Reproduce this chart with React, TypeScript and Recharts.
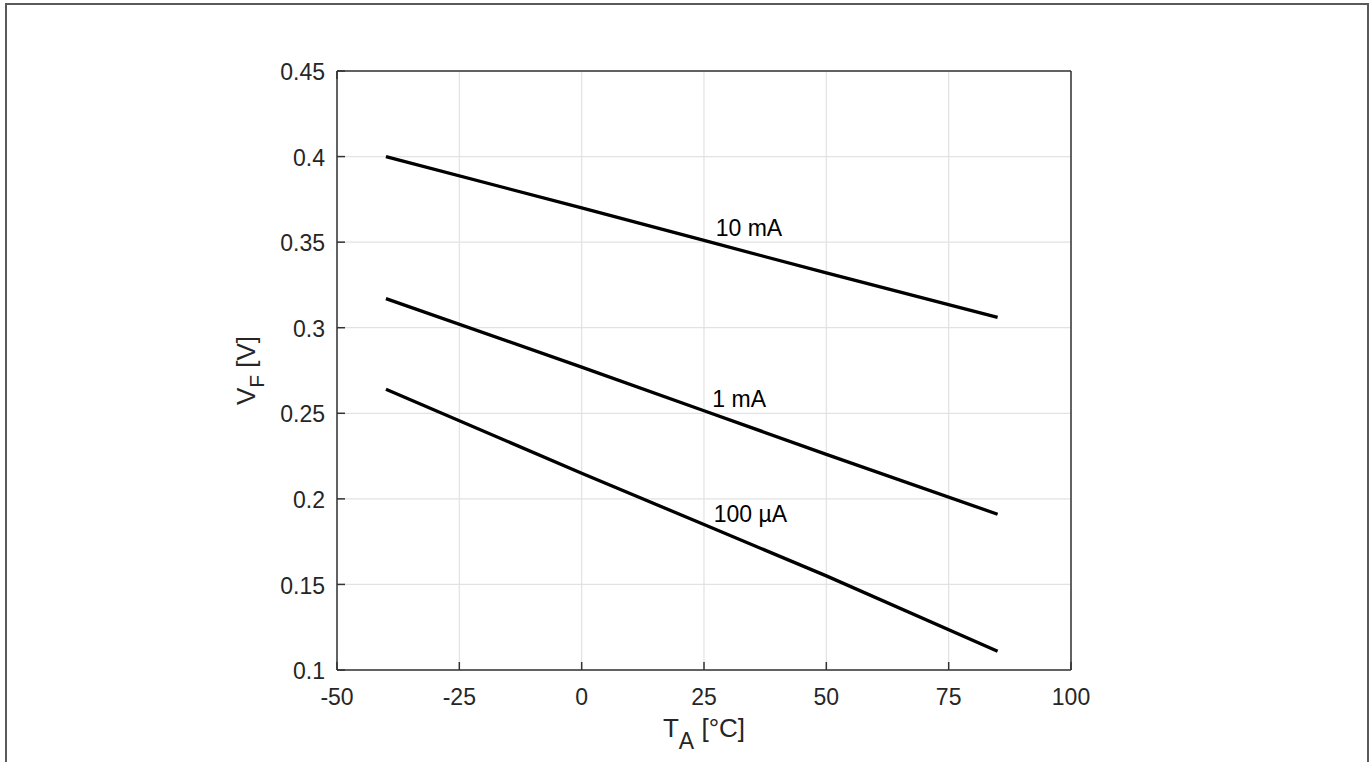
import React from "react"
import {
  LineChart,
  Line,
  XAxis,
  YAxis,
  CartesianGrid,
  ReferenceDot,
  Label
} from "recharts"

// forward voltage vs ambient temperature, one curve per forward current
const temperatures = [-40, 0, 25, 50, 85]
const vf10mA = [0.4, 0.37, 0.351, 0.332, 0.306]
const vf1mA = [0.317, 0.277, 0.2515, 0.226, 0.191]
const vf100uA = [0.264, 0.215, 0.185, 0.155, 0.111]

const xTicks = [-50, -25, 0, 25, 50, 75, 100]
const yTicks = [0.1, 0.15, 0.2, 0.25, 0.3, 0.35, 0.4, 0.45]

const curveNames = ["10 mA", "1 mA", "100 µA"]
const curveLabelX = [27.4, 26.7, 27.0]
const curveLabelY = [0.3538, 0.2534, 0.1865]

const data = temperatures.map((t, i) => ({
  t,
  i10m: vf10mA[i],
  i1m: vf1mA[i],
  i100u: vf100uA[i]
}))

const FONT = '"Liberation Sans", Arial, Helvetica, sans-serif'
const TEXT = "#262626"
const AXIS = "#333333"
const GRID = "#e2e2e2"
const TICK_LEN = 8
const X_MARGIN = 18
const Y_MARGIN = 12
// 0 is treated as "unset" by the axis, so use a tiny size instead
const NO_TICK = 0.001

function BottomTick(props: any) {
  const { x, y, payload } = props
  const axisY = y - X_MARGIN - NO_TICK
  return (
    <g>
      <line x1={x} y1={axisY} x2={x} y2={axisY - TICK_LEN} stroke={AXIS} strokeWidth={1.5} />
      <text x={x} y={y} dy="0.74em" textAnchor="middle" fontSize={23} fill={TEXT} fontFamily={FONT}>
        {payload.value}
      </text>
    </g>
  )
}

function LeftTick(props: any) {
  const { x, y, payload } = props
  const axisX = x + Y_MARGIN + NO_TICK
  return (
    <g>
      <line x1={axisX} y1={y} x2={axisX + TICK_LEN} y2={y} stroke={AXIS} strokeWidth={1.5} />
      <text x={x} y={y} dy="0.4em" textAnchor="end" fontSize={23} fill={TEXT} fontFamily={FONT}>
        {payload.value}
      </text>
    </g>
  )
}

// mirrored ticks on the top and right edges of the box
function TopTick(props: any) {
  const { x, y } = props
  return <line x1={x} y1={y} x2={x} y2={y + TICK_LEN} stroke={AXIS} strokeWidth={1.5} />
}

function RightTick(props: any) {
  const { x, y } = props
  return <line x1={x} y1={y} x2={x - TICK_LEN} y2={y} stroke={AXIS} strokeWidth={1.5} />
}

function XTitle(props: any) {
  const vb = props.viewBox
  return (
    <text x={vb.x + vb.width / 2} y={vb.y + 67} textAnchor="middle" fontSize={26} fill={TEXT} fontFamily={FONT}>
      T
      <tspan dy={12} fontSize={23}>A</tspan>
      <tspan dy={-12}> [°C]</tspan>
    </text>
  )
}

function YTitle(props: any) {
  const vb = props.viewBox
  const cx = vb.x + 18
  const cy = vb.y + vb.height / 2
  return (
    <text
      x={cx}
      y={cy}
      transform={`rotate(-90, ${cx}, ${cy})`}
      textAnchor="middle"
      fontSize={26}
      fill={TEXT}
      fontFamily={FONT}
    >
      V
      <tspan dy={9} fontSize={21}>F</tspan>
      <tspan dy={-9}> [V]</tspan>
    </text>
  )
}

function curveLabel(text: string) {
  return (props: any) => {
    const vb = props.viewBox
    return (
      <text x={vb.x} y={vb.y} fontSize={23} fill="#000" fontFamily={FONT}>
        {text}
      </text>
    )
  }
}

export default function App() {
  return (
    <div
      style={{
        position: "absolute",
        left: 0,
        top: 0,
        width: 1370,
        height: 762,
        overflow: "hidden",
        background: "#fff"
      }}
    >
      <div
        style={{
          position: "absolute",
          left: 5,
          top: 3,
          width: 1364,
          height: 820,
          border: "2px solid #5a5a5a",
          boxSizing: "border-box"
        }}
      />
      <div style={{ position: "absolute", left: 0, top: 0 }}>
        <LineChart
          width={1370}
          height={762}
          data={data}
          margin={{ top: 70, right: 298, bottom: 12, left: 237 }}
        >
          <CartesianGrid stroke={GRID} strokeWidth={1.2} />
          <XAxis
            dataKey="t"
            type="number"
            domain={[-50, 100]}
            ticks={xTicks}
            interval={0}
            height={80}
            tickSize={NO_TICK}
            tickMargin={X_MARGIN}
            tickLine={false}
            tick={<BottomTick />}
            axisLine={{ stroke: AXIS, strokeWidth: 1.5 }}
          >
            <Label content={XTitle} />
          </XAxis>
          <XAxis
            xAxisId="top"
            orientation="top"
            type="number"
            domain={[-50, 100]}
            ticks={xTicks}
            interval={0}
            height={1}
            tickSize={NO_TICK}
            tickMargin={0}
            tickLine={false}
            tick={<TopTick />}
            axisLine={{ stroke: AXIS, strokeWidth: 1.5 }}
          />
          <YAxis
            type="number"
            domain={[0.1, 0.45]}
            ticks={yTicks}
            interval={0}
            width={100}
            tickSize={NO_TICK}
            tickMargin={Y_MARGIN}
            tickLine={false}
            tick={<LeftTick />}
            axisLine={{ stroke: AXIS, strokeWidth: 1.5 }}
          >
            <Label content={YTitle} />
          </YAxis>
          <YAxis
            yAxisId="right"
            orientation="right"
            type="number"
            domain={[0.1, 0.45]}
            ticks={yTicks}
            interval={0}
            width={1}
            tickSize={NO_TICK}
            tickMargin={0}
            tickLine={false}
            tick={<RightTick />}
            axisLine={{ stroke: AXIS, strokeWidth: 1.5 }}
          />
          <Line type="linear" dataKey="i10m" stroke="#000" strokeWidth={3.3} dot={false} isAnimationActive={false} />
          <Line type="linear" dataKey="i1m" stroke="#000" strokeWidth={3.3} dot={false} isAnimationActive={false} />
          <Line type="linear" dataKey="i100u" stroke="#000" strokeWidth={3.3} dot={false} isAnimationActive={false} />
          {curveNames.map((name, i) => (
            <ReferenceDot
              key={name}
              x={curveLabelX[i]}
              y={curveLabelY[i]}
              r={0}
              fill="none"
              stroke="none"
              label={curveLabel(name)}
            />
          ))}
        </LineChart>
      </div>
    </div>
  )
}
